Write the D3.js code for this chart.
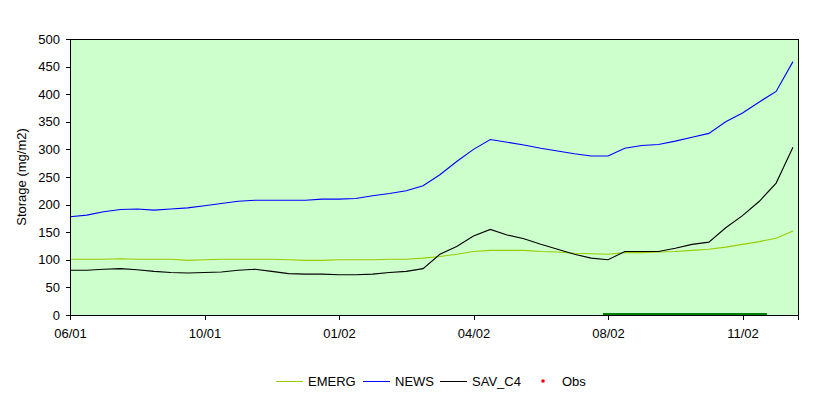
<!DOCTYPE html>
<html>
<head>
<meta charset="utf-8">
<script src="https://cdn.jsdelivr.net/npm/d3@7"></script>
<style>
  html, body { margin: 0; padding: 0; background: #fff; }
  svg text { font-family: "Liberation Sans", Arial, sans-serif; fill: #000; }
</style>
</head>
<body>
<svg id="chart" width="832" height="399"></svg>
<script>
// storage chart — three modelled series on a category axis, one tick every 8 points

const tickLabels = ["06/01", "10/01", "01/02", "04/02", "08/02", "11/02"];
const tickEvery = 8;

const emerg = [101, 101, 101, 102, 101, 101, 101, 99, 100, 101, 101, 101, 101, 100, 99, 99,
  100, 100, 100, 101, 101, 103, 106, 110, 115, 117, 117, 117, 115, 114, 112, 111,
  110, 113, 113, 114, 115, 117, 119, 123, 128, 133, 139, 152];
const news = [178, 181, 187, 191, 192, 190, 192, 194, 198, 202, 206, 208, 208, 208, 208, 210,
  210, 211, 216, 220, 225, 234, 254, 278, 300, 318, 313, 308, 302, 297, 292, 288,
  288, 302, 307, 309, 315, 322, 329, 350, 366, 386, 405, 459];
const savC4 = [81, 81, 83, 84, 82, 79, 77, 76, 77, 78, 81, 83, 79, 75, 74, 74,
  73, 73, 74, 77, 79, 84, 110, 124, 143, 155, 145, 138, 128, 119, 110, 103,
  100, 115, 115, 115, 121, 128, 132, 158, 180, 206, 239, 304];
// observation window, in category units
const obsWindow = [31.7, 41.45];

const yTicks = [0, 50, 100, 150, 200, 250, 300, 350, 400, 450, 500];

const series = [
  { name: "EMERG", values: emerg, color: "#99cc00" },
  { name: "NEWS", values: news, color: "#0000ff" },
  { name: "SAV_C4", values: savC4, color: "#000000" },
];

const svg = d3.select("#chart");
const L = 70, R = 798, T = 39, B = 315;

const x = d3.scaleLinear().domain([0, 43.3]).range([L, R]);
const y = d3.scaleLinear().domain([0, 500]).range([B, T]);

// plot area
svg.append("rect")
  .attr("x", L).attr("y", T).attr("width", R - L).attr("height", B - T)
  .attr("fill", "#ccffcc").attr("stroke", "#000").attr("stroke-width", 1)
  .attr("shape-rendering", "crispEdges");

// lines
const line = d3.line().x((d, i) => x(i)).y(d => y(d));
const lineG = svg.append("g");
series.forEach(s => {
  lineG.append("path")
    .datum(s.values)
    .attr("d", line)
    .attr("fill", "none")
    .attr("stroke", s.color)
    .attr("stroke-width", 1.1);
});

// obs window bar along the bottom
svg.append("line")
  .attr("x1", x(obsWindow[0])).attr("x2", x(obsWindow[1]))
  .attr("y1", y(0) - 0.5).attr("y2", y(0) - 0.5)
  .attr("stroke", "#008000").attr("stroke-width", 3);

// axes
const yAxis = svg.append("g")
  .attr("transform", `translate(${L},0)`)
  .call(d3.axisLeft(y).tickValues(yTicks).tickSize(4).tickPadding(6));
const xAxis = svg.append("g")
  .attr("transform", `translate(0,${B})`)
  .call(d3.axisBottom(x)
    .tickValues(tickLabels.map((_, i) => i * tickEvery))
    .tickFormat((d, i) => tickLabels[i])
    .tickSize(5).tickPadding(9));
[yAxis, xAxis].forEach(a => {
  a.selectAll("path, line").attr("stroke", "#000").attr("shape-rendering", "crispEdges");
  a.selectAll("text").style("font-size", "13px").attr("fill", "#000");
});

svg.append("text")
  .attr("transform", `translate(26,${(T + B) / 2}) rotate(-90)`)
  .attr("text-anchor", "middle")
  .style("font-size", "13px")
  .text("Storage (mg/m2)");

// legend
const legend = [
  { name: "EMERG", color: "#99cc00", x: 276 },
  { name: "NEWS", color: "#0000ff", x: 363 },
  { name: "SAV_C4", color: "#000000", x: 440 },
];
const lg = svg.append("g");
legend.forEach(d => {
  lg.append("line")
    .attr("x1", d.x).attr("x2", d.x + 27).attr("y1", 381.5).attr("y2", 381.5)
    .attr("stroke", d.color).attr("stroke-width", 1);
  lg.append("text")
    .attr("x", d.x + 32).attr("y", 386)
    .style("font-size", "13px")
    .text(d.name);
});
lg.append("circle").attr("cx", 543).attr("cy", 381).attr("r", 1.8).attr("fill", "#ff0000");
lg.append("text").attr("x", 562).attr("y", 386).style("font-size", "13px").text("Obs");
</script>
</body>
</html>
